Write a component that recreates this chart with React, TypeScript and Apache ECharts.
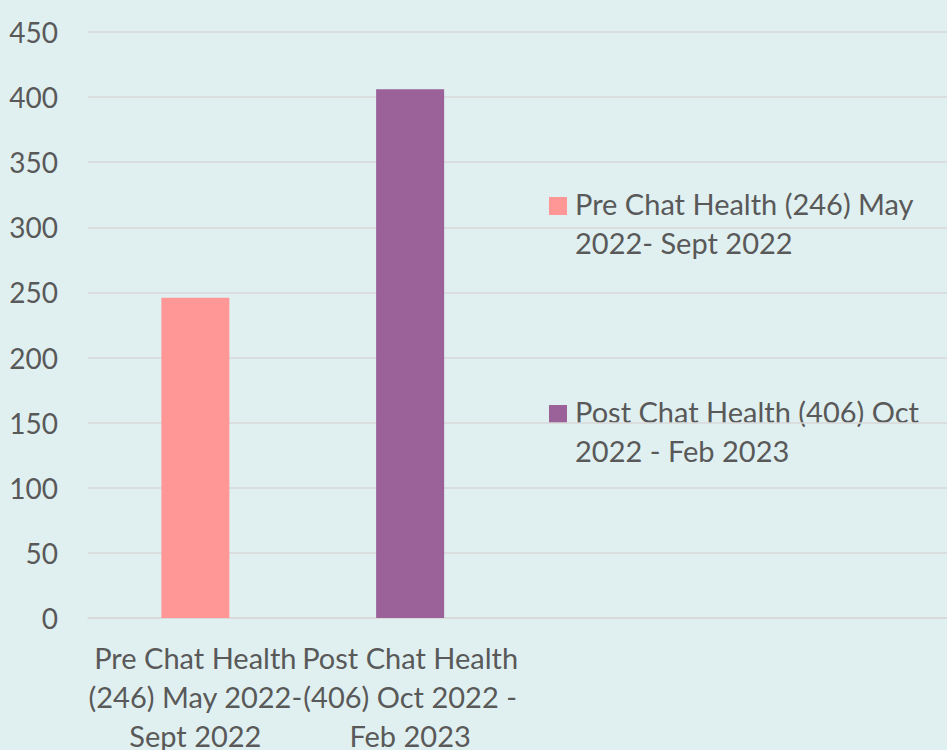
import React, { useEffect, useRef } from "react";
import * as echarts from "echarts";

const categories = [
  "Pre Chat Health (246) May 2022- Sept 2022",
  "Post Chat Health (406) Oct 2022 - Feb 2023",
  "",
  "",
];
const categoryLabelLines = [
  ["Pre Chat Health", "(246) May 2022-", "Sept 2022"],
  ["Post Chat Health", "(406) Oct 2022 -", "Feb 2023"],
  [],
  [],
];
const seriesNames = [
  "Pre Chat Health (246) May 2022- Sept 2022",
  "Post Chat Health (406) Oct 2022 - Feb 2023",
];
const legendLines = [
  ["Pre Chat Health (246) May", "2022- Sept 2022"],
  ["Post Chat Health (406) Oct", "2022 - Feb 2023"],
];
const preValues: (number | string)[] = [246, "-", "-", "-"];
const postValues: (number | string)[] = ["-", 406, "-", "-"];
const seriesColors = ["#FF9797", "#9B6299"];
const yTicks = { min: 0, max: 450, interval: 50 };

const FONT = "Lato";
const TEXT = "#595959";

export default function App() {
  const ref = useRef<HTMLDivElement>(null);
  useEffect(() => {
    if (!ref.current) return;
    const chart = echarts.init(ref.current, undefined, { renderer: "svg" });
    const legendCenter = [205, 413];
    const graphic: any[] = [];
    legendLines.forEach((lines, i) => {
      graphic.push({
        type: "rect",
        x: 549,
        y: legendCenter[i] - 8,
        shape: { width: 18, height: 18 },
        style: { fill: seriesColors[i] },
      });
      lines.forEach((ln, j) => {
        graphic.push({
          type: "text",
          x: 575,
          y: legendCenter[i] - 2 + j * 39,
          style: {
            text: ln,
            fill: TEXT,
            font: `29px ${FONT}`,
            verticalAlign: "middle",
          },
        });
      });
    });
    chart.setOption({
      animation: false,
      backgroundColor: "#E0F0F0",
      textStyle: { fontFamily: FONT },
      grid: {
        left: 88,
        right: 0,
        top: 32,
        bottom: 132,
        containLabel: false,
        outerBoundsMode: "none",
      },
      xAxis: {
        type: "category",
        data: categories,
        axisLine: { show: true, lineStyle: { color: "#D9D9D9", width: 1.5 } },
        axisTick: { show: false },
        axisLabel: {
          interval: 0,
          color: TEXT,
          fontSize: 29,
          fontFamily: FONT,
          lineHeight: 39,
          margin: 20,
          formatter: (_v: string, idx: number) =>
            (categoryLabelLines[idx] || []).join("\n"),
        },
      },
      yAxis: {
        type: "value",
        min: yTicks.min,
        max: yTicks.max,
        interval: yTicks.interval,
        axisLine: { show: false },
        axisTick: { show: false },
        splitLine: { lineStyle: { color: "#D9D9D9", width: 1.5 } },
        axisLabel: {
          color: TEXT,
          fontSize: 28,
          fontFamily: FONT,
          margin: 30,
        },
      },
      series: [
        {
          name: seriesNames[0],
          type: "bar",
          stack: "s",
          data: preValues,
          barWidth: 68,
          itemStyle: { color: seriesColors[0] },
        },
        {
          name: seriesNames[1],
          type: "bar",
          stack: "s",
          data: postValues,
          barWidth: 68,
          itemStyle: { color: seriesColors[1] },
        },
      ],
      graphic,
    });
    return () => chart.dispose();
  }, []);
  return (
    <div
      ref={ref}
      style={{ position: "fixed", left: 0, top: 0, width: 947, height: 750 }}
    />
  );
}
